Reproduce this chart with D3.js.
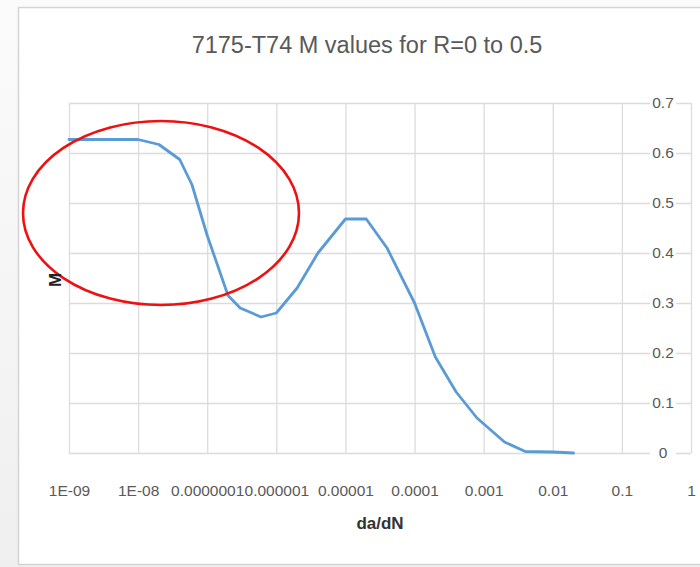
<!DOCTYPE html>
<html>
<head>
<meta charset="utf-8">
<script src="https://cdn.jsdelivr.net/npm/d3@7"></script>
<style>
  html, body { margin: 0; padding: 0; background: #ffffff; }
  svg { display: block; }
  text { font-family: "Liberation Sans", Arial, sans-serif; }
</style>
</head>
<body>
<svg id="chart" width="700" height="567"></svg>
<script>
// Crack growth rate (da/dN) and the fitted M exponent
const rates = [1e-9, 1e-8, 2e-8, 4e-8, 6e-8, 1e-7, 2e-7, 3e-7, 6e-7, 1e-6,
               2e-6, 4e-6, 1e-5, 2e-5, 4e-5, 1e-4, 2e-4, 4e-4, 8e-4, 2e-3,
               4e-3, 1e-2, 2e-2];
const mValues = [0.627, 0.627, 0.617, 0.587, 0.537, 0.435, 0.315, 0.29, 0.272, 0.28,
                 0.33, 0.40, 0.468, 0.468, 0.41, 0.30, 0.192, 0.122, 0.07, 0.022,
                 0.003, 0.002, 0.0];

// Axis ticks
const xTicks = [1e-9, 1e-8, 1e-7, 1e-6, 1e-5, 1e-4, 1e-3, 1e-2, 1e-1, 1];
const xTickLabels = ["1E-09", "1E-08", "0.0000001", "0.000001", "0.00001",
                     "0.0001", "0.001", "0.01", "0.1", "1"];
const yTicks = [0, 0.1, 0.2, 0.3, 0.4, 0.5, 0.6, 0.7];
const yTickLabels = ["0", "0.1", "0.2", "0.3", "0.4", "0.5", "0.6", "0.7"];

const titleText = "7175-T74 M values for R=0 to 0.5";
const xTitle = "da/dN";
const yTitle = "M";

const svg = d3.select("#chart");

// Slide background strip and chart frame
const defs = svg.append("defs");
const grad = defs.append("linearGradient").attr("id", "bg").attr("x1", 0).attr("y1", 0).attr("x2", 0).attr("y2", 1);
grad.append("stop").attr("offset", "0%").attr("stop-color", "#fbfbfb");
grad.append("stop").attr("offset", "100%").attr("stop-color", "#efefef");
svg.append("rect").attr("x", 0).attr("y", 0).attr("width", 700).attr("height", 567).attr("fill", "url(#bg)");
svg.append("rect").attr("x", 18.5).attr("y", 7.5).attr("width", 700).attr("height", 557)
  .attr("fill", "#ffffff").attr("stroke", "#d4d4d4").attr("stroke-width", 1.5);

const x = d3.scaleLog().domain([1e-9, 1]).range([69, 691]);
const y = d3.scaleLinear().domain([0, 0.7]).range([453, 103]);

// Gridlines
const gx = svg.append("g").attr("transform", `translate(0,${y(0.7)})`)
  .call(d3.axisBottom(x).tickValues(xTicks).tickSize(y(0) - y(0.7)).tickFormat(""));
gx.select(".domain").remove();
gx.selectAll("line").attr("stroke", "#dcdcdc").attr("stroke-width", 1.3);

const gy = svg.append("g").attr("transform", `translate(${x(1e-9)},0)`)
  .call(d3.axisRight(y).tickValues(yTicks).tickSize(x(1) - x(1e-9)).tickFormat(""));
gy.select(".domain").remove();
gy.selectAll("line").attr("stroke", "#dcdcdc").attr("stroke-width", 1.3);

// X tick labels
const xl = svg.append("g").attr("transform", `translate(0,${y(0) + 38})`)
  .call(d3.axisBottom(x).tickValues(xTicks).tickSize(0)
    .tickFormat((d, i) => xTickLabels[i]));
xl.select(".domain").remove();
xl.selectAll("text").attr("fill", "#595959").style("font-size", "15.5px")
  .attr("y", 0).attr("dy", "0.35em");

// Y tick labels sit on the gridlines near the right edge
const yl = svg.append("g").selectAll("g").data(yTicks).join("g")
  .attr("transform", d => `translate(663,${y(d)})`);
yl.append("rect").attr("x", -13).attr("y", -8).attr("width", 26).attr("height", 16).attr("fill", "#ffffff");
yl.append("text").text((d, i) => yTickLabels[i])
  .attr("text-anchor", "middle").attr("dy", "0.35em")
  .attr("fill", "#595959").style("font-size", "15.5px");

// Series line
const line = d3.line().x((d, i) => x(rates[i])).y(d => y(d));
svg.append("path").datum(mValues).attr("d", line)
  .attr("fill", "none").attr("stroke", "#5b9bd5").attr("stroke-width", 2.8)
  .attr("stroke-linejoin", "round").attr("stroke-linecap", "round");

// Highlight ellipse around the threshold plateau
svg.append("ellipse").attr("cx", 161).attr("cy", 213).attr("rx", 138).attr("ry", 92)
  .attr("fill", "none").attr("stroke", "#ee1111").attr("stroke-width", 2.6);

// Titles
svg.append("text").text(titleText).attr("x", 367).attr("y", 45).attr("dy", "0.35em")
  .attr("text-anchor", "middle").attr("fill", "#595959").style("font-size", "23.5px");
svg.append("text").text(xTitle).attr("x", 380).attr("y", 523).attr("dy", "0.35em")
  .attr("text-anchor", "middle").attr("fill", "#333333").style("font-size", "17px").style("font-weight", "bold");
svg.append("text").text(yTitle).attr("transform", "translate(55,280) rotate(-90)").attr("dy", "0.35em")
  .attr("text-anchor", "middle").attr("fill", "#222222").style("font-size", "17px").style("font-weight", "bold");
</script>
</body>
</html>
